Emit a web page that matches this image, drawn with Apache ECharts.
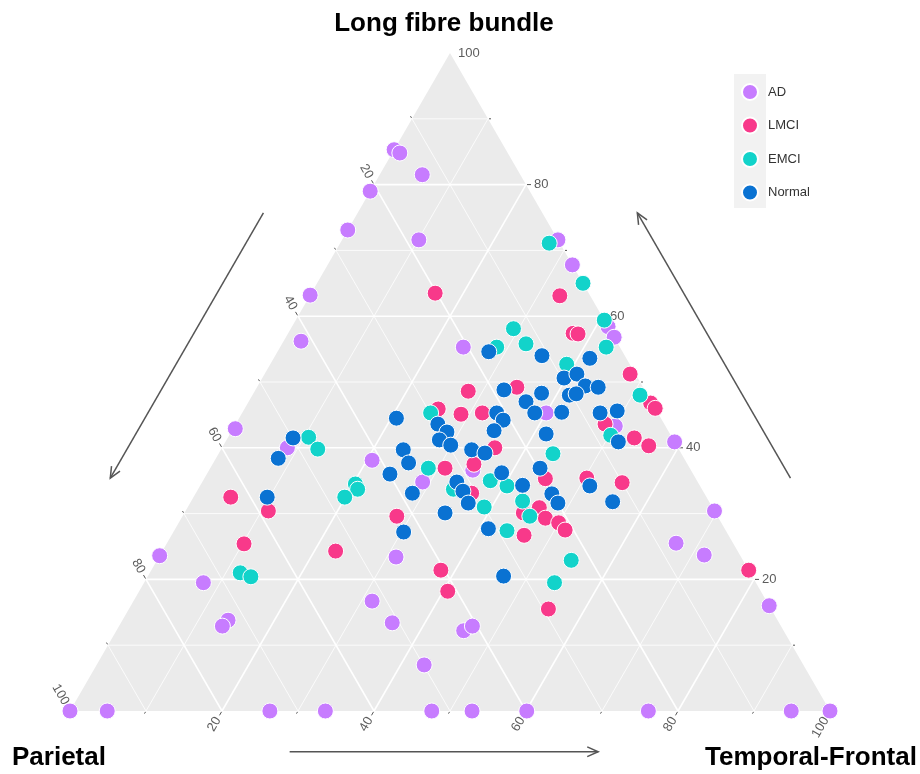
<!DOCTYPE html>
<html><head><meta charset="utf-8">
<script src="https://cdn.jsdelivr.net/npm/echarts@6/dist/echarts.min.js"></script>
<style>html,body{margin:0;padding:0;background:#fff}#chart{width:920px;height:774px}</style>
</head><body><div id="chart"></div>
<script>
// Each point: [Parietal, Long fibre bundle, Temporal-Frontal] (%)
const seriesNames = ['AD', 'LMCI', 'EMCI', 'Normal'];
const seriesColors = ['#C77CFF', '#F8398A', '#12D3CA', '#0A72D2'];

const adPoints = [[14.7,85.3,0],[14.2,84.8,1.0],[12.9,81.5,5.6],[21.0,79.0,0],[26.9,73.1,0],[18.3,71.6,10.1],[36.8,63.2,0],[41.5,56.2,2.3],[20.6,55.3,24.1],[0,71.6,28.4],[0,67.8,32.2],[0,58.4,41.6],[0,56.8,43.2],[14.7,45.3,40.0],[0,40.9,59.1],[6.6,43.3,50.1],[56.8,42.9,0.3],[51.4,40.0,8.6],[41.2,38.1,20.7],[36.2,34.8,29.0],[28.7,36.6,34.7],[45.4,23.4,31.2],[76.4,23.6,0],[72.7,19.5,7.8],[72.3,13.8,13.9],[73.5,12.9,13.6],[51.9,16.7,31.4],[50.9,13.4,35.7],[42.1,12.2,45.7],[40.6,12.9,46.5],[49.9,7.0,43.1],[100,0,0],[95.1,0,4.9],[73.7,0,26.3],[66.4,0,33.6],[52.4,0,47.6],[47.1,0,52.9],[39.9,0,60.1],[23.9,0,76.1],[5.1,0,94.9],[0,0,100],[0,30.4,69.6],[7.5,25.5,67.0],[4.7,23.7,71.6],[0,16.0,84.0]];

const lmciPoints = [[20.2,63.5,16.3],[4.0,63.1,32.9],[5.1,57.4,37.5],[4.5,57.3,38.2],[0.7,51.2,48.1],[0.2,46.8,53.0],[0,46.0,54.0],[23.3,48.6,28.1],[16.6,49.2,34.2],[28.6,45.9,25.5],[26.0,45.1,28.9],[23.1,45.3,31.6],[24.1,40.0,35.9],[28.1,37.5,34.4],[32.2,36.9,30.9],[7.8,43.6,48.6],[5.0,41.5,53.5],[3.7,40.3,56.0],[19.8,35.3,44.9],[14.3,35.4,50.3],[10.0,34.7,55.3],[25.3,30.1,44.6],[22.8,30.9,46.3],[22.8,29.3,47.9],[21.4,28.6,50.0],[21.1,27.5,51.4],[26.9,26.7,46.4],[30.6,33.1,36.3],[42.2,29.6,28.2],[52.9,24.3,22.8],[40.5,21.4,38.1],[41.2,18.2,40.6],[29.3,15.5,55.2],[58.7,30.4,10.9],[62.6,32.5,4.9],[64.4,25.4,10.2],[0,21.4,78.6]];

const emciPoints = [[1.4,71.1,27.5],[0,65.0,35.0],[0,59.4,40.6],[12.6,58.1,29.3],[12.1,55.8,32.1],[16.2,55.3,28.5],[1.8,55.3,42.9],[8.3,52.7,39.0],[1.0,48.0,51.0],[29.9,45.3,24.8],[7.9,41.9,50.2],[47.8,41.6,10.6],[47.5,39.8,12.7],[45.2,34.5,20.3],[45.3,33.7,21.0],[47.6,32.5,19.9],[34.4,36.9,28.7],[32.7,33.7,33.6],[16.9,39.1,44.0],[27.2,35.0,37.8],[25.4,34.2,40.4],[30.0,31.0,39.0],[24.5,31.9,43.6],[24.7,29.6,45.7],[28.8,27.4,43.8],[22.6,22.9,54.5],[26.5,19.5,54.0],[67.1,21.0,11.9],[66.0,20.4,13.6]];

const normalPoints = [[17.6,54.6,27.8],[10.9,54.0,35.1],[4.8,53.6,41.6],[9.7,50.6,39.7],[7.7,51.2,41.1],[7.5,49.4,43.1],[5.9,49.2,44.9],[10.3,48.0,41.7],[9.3,48.2,42.5],[18.5,48.8,32.7],[16.5,47.0,36.5],[13.8,48.3,37.9],[12.6,45.4,42.0],[7.6,45.3,47.1],[5.2,45.6,49.2],[21.2,45.3,33.5],[16.2,45.3,38.5],[20.9,44.2,34.9],[22.9,42.6,34.5],[7.4,40.9,51.7],[16.3,42.1,41.6],[49.9,41.5,8.6],[53.4,38.4,8.2],[57.8,32.5,9.7],[34.8,44.5,20.7],[29.8,43.6,26.6],[29.2,42.4,28.4],[30.8,41.2,28.0],[29.7,40.4,29.9],[36.3,39.7,24.0],[36.6,37.7,25.7],[39.9,36.0,24.1],[38.4,33.1,28.5],[35.6,30.1,34.3],[42.5,27.2,30.3],[31.7,34.8,33.5],[31.6,33.4,35.0],[31.8,31.6,36.6],[27.3,39.7,33.0],[25.8,39.2,35.0],[19.7,36.9,43.4],[25.1,36.2,38.7],[23.3,34.3,42.4],[20.1,33.0,46.9],[20.0,31.6,48.4],[14.5,34.2,51.3],[12.7,31.8,55.5],[31.1,27.7,41.2],[32.7,20.5,46.8]];

const gridLevels = [10,20,30,40,50,60,70,80,90];
const tickLevels = [10,20,30,40,50,60,70,80,90,100];
const tickLabels = [20,40,60,80,100];
const axisTitles = ['Long fibre bundle', 'Parietal', 'Temporal-Frontal'];

// direction arrows along each axis (ternary, outside the triangle)
const arrowTracks = [
  {from:[36.7,75.7,-12.4], to:[77.0,35.4,-12.4]},
  {from:[-12.5,35.4,77.1], to:[-12.5,75.7,36.8]},
  {from:[74.2,-6.2,32.0], to:[33.6,-6.2,72.6]}
];

const allGroups = [adPoints, lmciPoints, emciPoints, normalPoints];

// ternary -> cartesian (x: 0..100 across base, y: Long fibre bundle)
function toXY(t) {
  const P = t[0], L = t[1], T = t[2];
  const s = P + L + T;
  return [(T + L / 2) / s * 100, L / s * 100];
}

const FONT = '"Liberation Sans", Arial, sans-serif';
const chart = echarts.init(document.getElementById('chart'));

const series = [];
series.push({
  type: 'custom', silent: true, z: 0, clip: false, animation: false,
  data: [[50, 50]],
  renderItem: function (params, api) {
    const pts = [[100,0,0],[0,100,0],[0,0,100]].map(t => api.coord(toXY(t)));
    return {type: 'polygon', shape: {points: pts}, style: {fill: '#EBEBEB'}};
  }
});
series.push({
  type: 'custom', silent: true, z: 1, clip: false, animation: false,
  data: gridLevels.map(v => [v, v]),
  renderItem: function (params, api) {
    const v = api.value(0);
    const major = v % 20 === 0;
    const segs = [
      [[100 - v, v, 0], [0, v, 100 - v]],
      [[100 - v, 0, v], [0, 100 - v, v]],
      [[v, 0, 100 - v], [v, 100 - v, 0]]
    ];
    return {type: 'group', children: segs.map(s => {
      const a = api.coord(toXY(s[0])), b = api.coord(toXY(s[1]));
      return {type: 'line', shape: {x1: a[0], y1: a[1], x2: b[0], y2: b[1]},
        style: {stroke: '#FFFFFF', lineWidth: major ? 1.6 : 0.8}};
    })};
  }
});
// ticks and labels
series.push({
  type: 'custom', silent: true, z: 2, clip: false, animation: false,
  data: tickLevels.map(v => [v, v]),
  renderItem: function (params, api) {
    const v = api.value(0);
    const major = v % 20 === 0;
    const len = major ? 4 : 2;
    const defs = [
      {pt: [0, v, 100 - v], dir: [1, 0], rot: 0, align: 'left'},
      {pt: [v, 100 - v, 0], dir: [-0.5, -0.866], rot: -Math.PI / 3, align: 'right'},
      {pt: [100 - v, 0, v], dir: [-0.5, 0.866], rot: Math.PI / 3, align: 'right'}
    ];
    const children = [];
    defs.forEach(d => {
      const c = api.coord(toXY(d.pt));
      if (v < 100) {
        children.push({type: 'line', shape: {x1: c[0] + d.dir[0], y1: c[1] + d.dir[1], x2: c[0] + d.dir[0] * (1 + len), y2: c[1] + d.dir[1] * (1 + len)},
          style: {stroke: '#555', lineWidth: 1}});
      }
      if (tickLabels.indexOf(v) >= 0) {
        const off = 8;
        children.push({type: 'text', x: c[0] + d.dir[0] * off, y: c[1] + d.dir[1] * off, rotation: d.rot,
          style: {text: String(v), fill: '#5c5c5c', font: '13px ' + FONT, align: d.align, verticalAlign: 'middle'}});
      }
    });
    return {type: 'group', children: children};
  }
});
// arrows
series.push({
  type: 'custom', silent: true, z: 2, clip: false, animation: false,
  data: arrowTracks.map((a, i) => [i, i]),
  renderItem: function (params, api) {
    const a = arrowTracks[params.dataIndex];
    const p1 = api.coord(toXY(a.from)), p2 = api.coord(toXY(a.to));
    const ang = Math.atan2(p2[1] - p1[1], p2[0] - p1[0]);
    const hl = 12, ha = 0.42;
    const h1 = [p2[0] - hl * Math.cos(ang - ha), p2[1] - hl * Math.sin(ang - ha)];
    const h2 = [p2[0] - hl * Math.cos(ang + ha), p2[1] - hl * Math.sin(ang + ha)];
    const st = {stroke: '#555', lineWidth: 1.5};
    return {type: 'group', children: [
      {type: 'line', shape: {x1: p1[0], y1: p1[1], x2: p2[0], y2: p2[1]}, style: st},
      {type: 'polyline', shape: {points: [h1, p2, h2]}, style: Object.assign({fill: null}, st)}
    ]};
  }
});

allGroups.forEach((g, i) => {
  series.push({
    name: seriesNames[i], type: 'scatter', z: 3 + i, clip: false, animation: false,
    symbolSize: 16,
    itemStyle: {color: seriesColors[i], borderColor: '#FFFFFF', borderWidth: 1, opacity: 1},
    data: g.map(toXY)
  });
});

chart.setOption({
  animation: false,
  grid: {left: 70, top: 53, width: 760, height: 658},
  xAxis: {type: 'value', min: 0, max: 100, show: false},
  yAxis: {type: 'value', min: 0, max: 100, show: false},
  legend: {
    data: seriesNames, orient: 'vertical', left: 741, top: 83, padding: 0,
    itemWidth: 16, itemHeight: 16, itemGap: 15.5, icon: 'circle',
    textStyle: {fontSize: 13, color: '#333', fontFamily: FONT, padding: [0, 0, 0, 5]}
  },
  graphic: [
    {type: 'rect', z: 0, shape: {x: 734, y: 74, width: 32, height: 134}, style: {fill: '#F2F2F2'}},
    {type: 'text', x: 444, y: 24, style: {text: axisTitles[0], font: 'bold 26px ' + FONT, fill: '#000', align: 'center', verticalAlign: 'middle'}},
    {type: 'text', x: 12, y: 758, style: {text: axisTitles[1], font: 'bold 26px ' + FONT, fill: '#000', align: 'left', verticalAlign: 'middle'}},
    {type: 'text', x: 705, y: 758, style: {text: axisTitles[2], font: 'bold 26px ' + FONT, fill: '#000', align: 'left', verticalAlign: 'middle'}}
  ],
  series: series
});
</script></body></html>
